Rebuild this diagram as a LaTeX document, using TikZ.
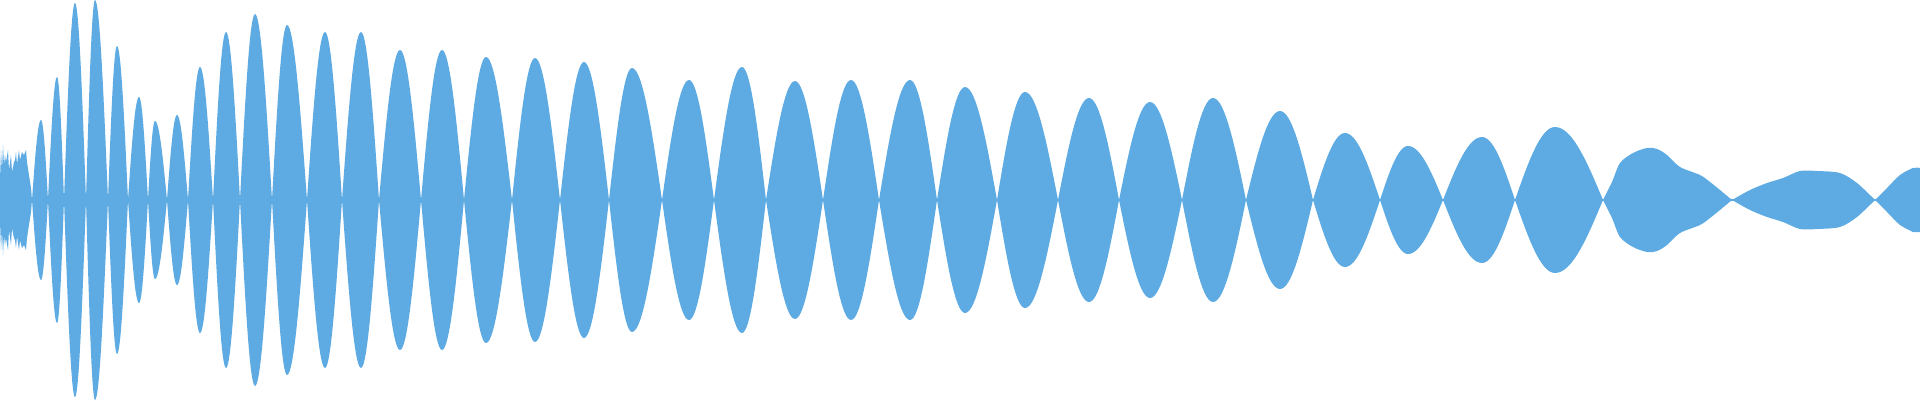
\documentclass[tikz,border=0pt]{standalone}
\definecolor{wave}{RGB}{93,171,226}
\tikzset{wavefill/.style={fill=wave,draw=none}}
\newcommand{\wlobe}[4]{%
  \fill[wavefill] (#1,0) -- plot[domain=0:90,samples=16] ({#1+(#2-#1)*\x/90},{#4*sin(\x)}) -- plot[domain=90:180,samples=16] ({#2+(#3-#2)*(\x-90)/90},{#4*sin(\x)}) -- plot[domain=180:90,samples=16] ({#2+(#3-#2)*(\x-90)/90},{-#4*sin(\x)}) -- plot[domain=90:0,samples=16] ({#1+(#2-#1)*\x/90},{-#4*sin(\x)}) -- cycle;}
\begin{document}
\begin{tikzpicture}[x=1pt,y=1pt]
\useasboundingbox (0,-200) rectangle (1920,200);
\draw[wave,line width=2.2pt] (0,0) -- (1920,0);
% noisy start
\fill[wavefill] (0,0) -- (0,20) -- (1,50) -- (2,30) -- (3,55) -- (4,35) -- (5,45) -- (6,38) -- (8,50) -- (9,30) -- (11,45) -- (12,28) -- (14,38) -- (15,40) -- (16,48) -- (17,36) -- (19,50) -- (20,40) -- (22,48) -- (24,45) -- (26,50) -- (27,38) -- (29,25) -- (31,12) -- (32,0)
 -- (31,-12) -- (29,-25) -- (27,-38) -- (26,-50) -- (24,-45) -- (22,-48) -- (20,-40) -- (19,-50) -- (17,-36) -- (16,-48) -- (15,-40) -- (14,-38) -- (12,-28) -- (11,-45) -- (9,-30) -- (8,-50) -- (6,-38) -- (5,-45) -- (4,-35) -- (3,-55) -- (2,-30) -- (1,-50) -- (0,-20) -- cycle;
\foreach \a/\p/\b/\h in {32/41/48/80, 48/57/64/123, 64/75/86/197, 86/95/108/200, 108/117/128/154, 128/139/148/103, 148/155/167/79, 167/177/188/85, 188/200/213/133, 213/226/240/168, 240/255/272/186, 272/287/307/175, 307/325/342/168, 342/361/379/168, 379/400/421/150, 421/442/464/150,
 464/486/512/143, 512/535/560/142, 560/584/609/138, 609/632/662/132, 662/689/714/120, 714/742/766/133, 766/795/823/119, 823/851/879/120, 879/910/937/120,
 937/965/997/113, 997/1025/1058/108, 1058/1089/1119/102, 1119/1150/1182/98, 1182/1213/1246/102, 1246/1280/1313/89, 1313/1345/1380/67,
 1380/1408/1443/54, 1443/1482/1515/63, 1515/1555/1603/73}
  {\wlobe{\a}{\p}{\b}{\h}}
% irregular tail
\fill[wavefill] plot[smooth,tension=0.5] coordinates {(1603,0)(1612,18)(1620,37)(1633,47)(1647,52)(1657,51)(1667,45)(1680,33)(1700,25)(1710,18)(1720,10)(1732,0)}
  -- plot[smooth,tension=0.5] coordinates {(1732,0)(1720,-10)(1710,-18)(1700,-25)(1680,-33)(1667,-45)(1657,-51)(1647,-52)(1633,-47)(1620,-37)(1612,-18)(1603,0)} -- cycle;
\fill[wavefill] plot[smooth,tension=0.5] coordinates {(1732,0)(1750,10)(1767,17)(1783,22)(1800,29)(1817,29)(1840,27)(1857,17)(1875,0)}
  -- plot[smooth,tension=0.5] coordinates {(1875,0)(1857,-17)(1840,-27)(1817,-29)(1800,-29)(1783,-22)(1767,-17)(1750,-10)(1732,0)} -- cycle;
\fill[wavefill] plot[smooth,tension=0.5] coordinates {(1875,0)(1887,12)(1900,25)(1913,32)(1920,32)}
  -- (1920,-32) -- plot[smooth,tension=0.5] coordinates {(1913,-32)(1900,-25)(1887,-12)(1875,0)} -- cycle;
\end{tikzpicture}
\end{document}
